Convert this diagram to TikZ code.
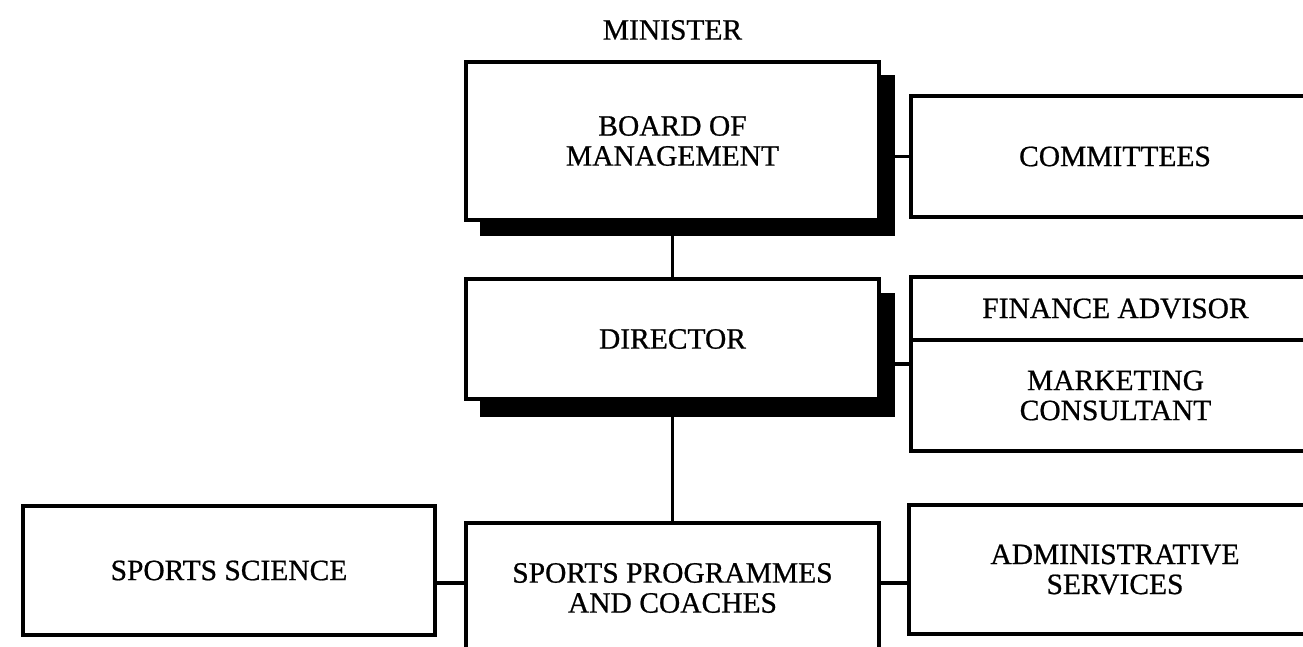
\documentclass[tikz,border=0pt]{standalone}
\usepackage{fontspec}
\setmainfont{Liberation Serif}
\newfontfamily\scanfont{Liberation Serif}[FakeBold=0.7]
\usetikzlibrary{backgrounds}
\begin{document}
\begin{tikzpicture}[x=1pt,y=-1pt,
  box/.style={draw=black, line width=3.3pt, fill=white, inner sep=0pt, align=center,
    font=\scanfont\fontsize{29.5}{30}\selectfont},
  shade/.style={fill=black, draw=none, inner sep=0pt},
  link/.style={line width=3.4pt},
  lbl/.style={inner sep=0pt, font=\scanfont\fontsize{29.5}{30}\selectfont}]
\clip (0,0) rectangle (1303,647);

\node[lbl] (minister) at (672.5,30) {MINISTER};

\node[box, minimum width=413pt, minimum height=158pt] (board) at (672.5,141) {BOARD OF\\MANAGEMENT};
\node[box, minimum width=413pt, minimum height=120pt] (director) at (672.5,339) {DIRECTOR};
\node[box, minimum width=413pt, minimum height=130pt] (spc) at (672.5,588) {SPORTS PROGRAMMES\\AND COACHES};
\node[box, minimum width=412pt, minimum height=129pt] (ss) at (229,570.5) {SPORTS SCIENCE};
\node[box, minimum width=408pt, minimum height=121pt] (comm) at (1115,156.5) {COMMITTEES};
\node[box, minimum width=409pt, minimum height=63pt] (fin) at (1115.5,308.5) {FINANCE ADVISOR};
\node[box, minimum width=409pt, minimum height=111pt] (mkt) at (1115.5,395.5) {MARKETING\\CONSULTANT};
\node[box, minimum width=412pt, minimum height=129pt] (adm) at (1115,569.5) {ADMINISTRATIVE\\SERVICES};

\begin{scope}[on background layer]
  \fill[white] (0,0) rectangle (1303,647);
  \node[shade, minimum width=415pt, minimum height=161pt] (boardsh) at (687.5,155.5) {};
  \node[shade, minimum width=415pt, minimum height=124pt] (dirsh) at (687.5,355) {};
\end{scope}

\draw[link] (board.south |- boardsh.south) -- (director.north);
\draw[link] (director.south |- dirsh.south) -- (spc.north);
\draw[link] (boardsh.east |- comm.west) -- (comm.west);
\draw[link] (dirsh.east |- 0,364) -- (mkt.west |- 0,364);
\draw[link] (ss.east |- 0,583) -- (spc.west |- 0,583);
\draw[link] (spc.east |- 0,583) -- (adm.west |- 0,583);
\end{tikzpicture}
\end{document}
